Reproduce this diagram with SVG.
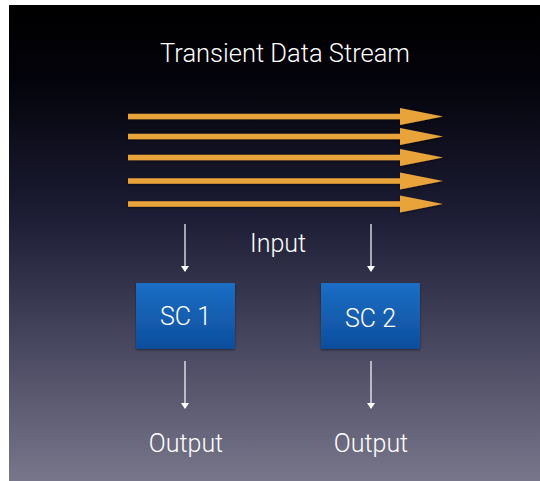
<svg xmlns="http://www.w3.org/2000/svg" width="540" height="481" viewBox="0 0 540 481">
<defs>
<linearGradient id="bg" x1="0" y1="0" x2="0" y2="1">
<stop offset="0" stop-color="#000000"/>
<stop offset="0.15" stop-color="#03030a"/>
<stop offset="0.45" stop-color="#1d1d35"/>
<stop offset="0.7" stop-color="#46455e"/>
<stop offset="1" stop-color="#78768a"/>
</linearGradient>
<linearGradient id="box" x1="0" y1="0" x2="0" y2="1">
<stop offset="0" stop-color="#1b6ec5"/>
<stop offset="1" stop-color="#0d4e9c"/>
</linearGradient>
<marker id="wa" markerWidth="6" markerHeight="8" refX="5" refY="4" orient="auto" markerUnits="userSpaceOnUse">
<path d="M0,0 L6,4 L0,8 Z" fill="#ffffff"/>
</marker>
<filter id="sh" x="-10%" y="-10%" width="130%" height="130%">
<feDropShadow dx="0" dy="1" stdDeviation="1.2" flood-color="#000" flood-opacity="0.5"/>
</filter>
</defs>
<style>
.t{font-family:"Roboto","Helvetica Neue","Liberation Sans",sans-serif;font-weight:300;fill:#ffffff;text-anchor:middle}
.stream{stroke:#e8a33a;stroke-width:5.5;fill:none}
.head{fill:#e8a33a}
.wl{stroke:#ffffff;stroke-width:1.2;fill:none}
</style>
<rect x="0" y="0" width="540" height="481" fill="#ffffff"/>
<rect x="9" y="5" width="531" height="476" fill="url(#bg)"/>
<text class="t" x="285" y="62" font-size="25.5">Transient Data Stream</text>
<g id="connectors">
<g id="stream" filter="url(#sh)">
<line class="stream" x1="128" y1="116.5" x2="402" y2="116.5"/>
<path class="head" d="M400,108 L443,116.5 L400,125 Z"/>
<line class="stream" x1="128" y1="136.5" x2="402" y2="136.5"/>
<path class="head" d="M400,128 L443,136.5 L400,145 Z"/>
<line class="stream" x1="128" y1="157.5" x2="402" y2="157.5"/>
<path class="head" d="M400,149 L443,157.5 L400,166 Z"/>
<line class="stream" x1="128" y1="181" x2="402" y2="181"/>
<path class="head" d="M400,172.5 L443,181 L400,189.5 Z"/>
<line class="stream" x1="128" y1="204" x2="402" y2="204"/>
<path class="head" d="M400,195.5 L443,204 L400,212.5 Z"/>
</g>
<line class="wl" x1="185" y1="224" x2="185" y2="271" marker-end="url(#wa)"/>
<line class="wl" x1="371" y1="224" x2="371" y2="271" marker-end="url(#wa)"/>
<line class="wl" x1="185" y1="361" x2="185" y2="408" marker-end="url(#wa)"/>
<line class="wl" x1="371" y1="361" x2="371" y2="408" marker-end="url(#wa)"/>
</g>
<text class="t" x="278" y="252" font-size="25">Input</text>
<g id="sc1">
<rect x="136" y="283" width="99" height="66" fill="url(#box)" filter="url(#sh)"/>
<text class="t" x="185.5" y="325" font-size="25">SC 1</text>
</g>
<g id="sc2">
<rect x="321" y="283" width="99" height="66" fill="url(#box)" filter="url(#sh)"/>
<text class="t" x="370.5" y="327" font-size="25">SC 2</text>
</g>
<g id="out1"><text class="t" x="186" y="452" font-size="25">Output</text></g>
<g id="out2"><text class="t" x="371" y="452" font-size="25">Output</text></g>
</svg>
